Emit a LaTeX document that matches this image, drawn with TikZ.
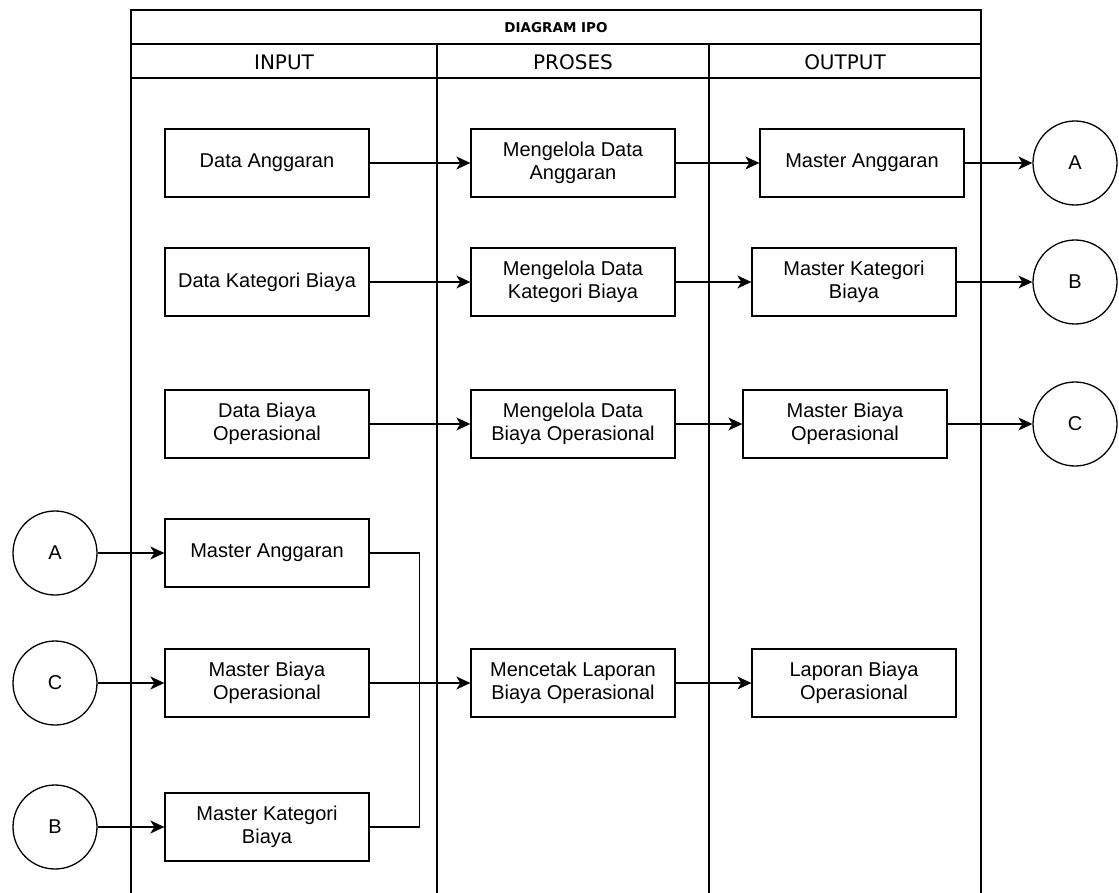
\documentclass[tikz,border=0pt]{standalone}
\usepackage{fontspec}
\setmainfont{Liberation Sans}
\newfontfamily\hdrfont{DejaVu Sans}
\usetikzlibrary{arrows.meta,calc}
\tikzset{
  box/.style={draw, line width=1.3pt, minimum width=204pt, minimum height=68pt, align=center, inner sep=2pt,
    font=\fontsize{20}{23}\selectfont},
  conn/.style={draw, line width=1.3pt, shape=circle, minimum size=84pt, inner sep=0pt,
    font=\fontsize{20}{23}\selectfont},
  arr/.style={line width=1.3pt, -{Stealth[length=14pt,width=13pt,inset=4pt]}},
  ln/.style={line width=1.3pt},
  lane/.style={line width=1.3pt},
  hdr/.style={font=\hdrfont\fontsize{20}{23}\selectfont},
  ttl/.style={font=\hdrfont\bfseries\fontsize{13.5}{16}\selectfont}
}
\begin{document}
\begin{tikzpicture}[x=1pt,y=-1pt]
\useasboundingbox (0,0) rectangle (1119,893);
% table
\draw[lane] (131,893) -- (131,10) -- (981,10) -- (981,893);
\draw[lane] (131,44) -- (981,44);
\draw[lane] (131,78) -- (981,78);
\draw[lane] (437,44) -- (437,893);
\draw[lane] (709,44) -- (709,893);
\node[ttl] (title) at (556,28) {DIAGRAM IPO};
\node[hdr] (hin) at (284,62) {INPUT};
\node[hdr] (hpr) at (573,62) {PROSES};
\node[hdr] (hout) at (845,62) {OUTPUT};
% row 1
\node[box] (in1) at (267,163) {Data Anggaran};
\node[box] (p1) at (573,163) {Mengelola Data\\Anggaran};
\node[box] (o1) at (862,163) {Master Anggaran};
\node[conn] (cA) at (1075,163) {A};
% row 2
\node[box] (in2) at (267,282) {Data Kategori Biaya};
\node[box] (p2) at (573,282) {Mengelola Data\\Kategori Biaya};
\node[box] (o2) at (854,282) {Master Kategori\\Biaya};
\node[conn] (cB) at (1075,282) {B};
% row 3
\node[box] (in3) at (267,424) {Data Biaya\\Operasional};
\node[box] (p3) at (573,424) {Mengelola Data\\Biaya Operasional};
\node[box] (o3) at (845,424) {Master Biaya\\Operasional};
\node[conn] (cC) at (1075,424) {C};
% report inputs
\node[conn] (cA2) at (55,553) {A};
\node[box] (mA) at (267,553) {Master Anggaran};
\node[conn] (cC2) at (55,683) {C};
\node[box] (mB) at (267,683) {Master Biaya\\Operasional};
\node[box] (p4) at (573,683) {Mencetak Laporan\\Biaya Operasional};
\node[box] (o4) at (854,683) {Laporan Biaya\\Operasional};
\node[conn] (cB2) at (55,827) {B};
\node[box] (mK) at (267,827) {Master Kategori\\Biaya};
% connectors
\draw[arr] (in1) -- (p1);
\draw[arr] (p1) -- (o1);
\draw[arr] (o1) -- (cA);
\draw[arr] (in2) -- (p2);
\draw[arr] (p2) -- (o2);
\draw[arr] (o2) -- (cB);
\draw[arr] (in3) -- (p3);
\draw[arr] (p3) -- (o3);
\draw[arr] (o3) -- (cC);
\draw[arr] (cA2) -- (mA);
\draw[arr] (cC2) -- (mB);
\draw[arr] (cB2) -- (mK);
\draw[arr] (mB) -- (p4);
\draw[arr] (p4) -- (o4);
\draw[ln] (mA.east) -| ([xshift=50pt]mK.east) -- (mK.east);
\end{tikzpicture}
\end{document}
